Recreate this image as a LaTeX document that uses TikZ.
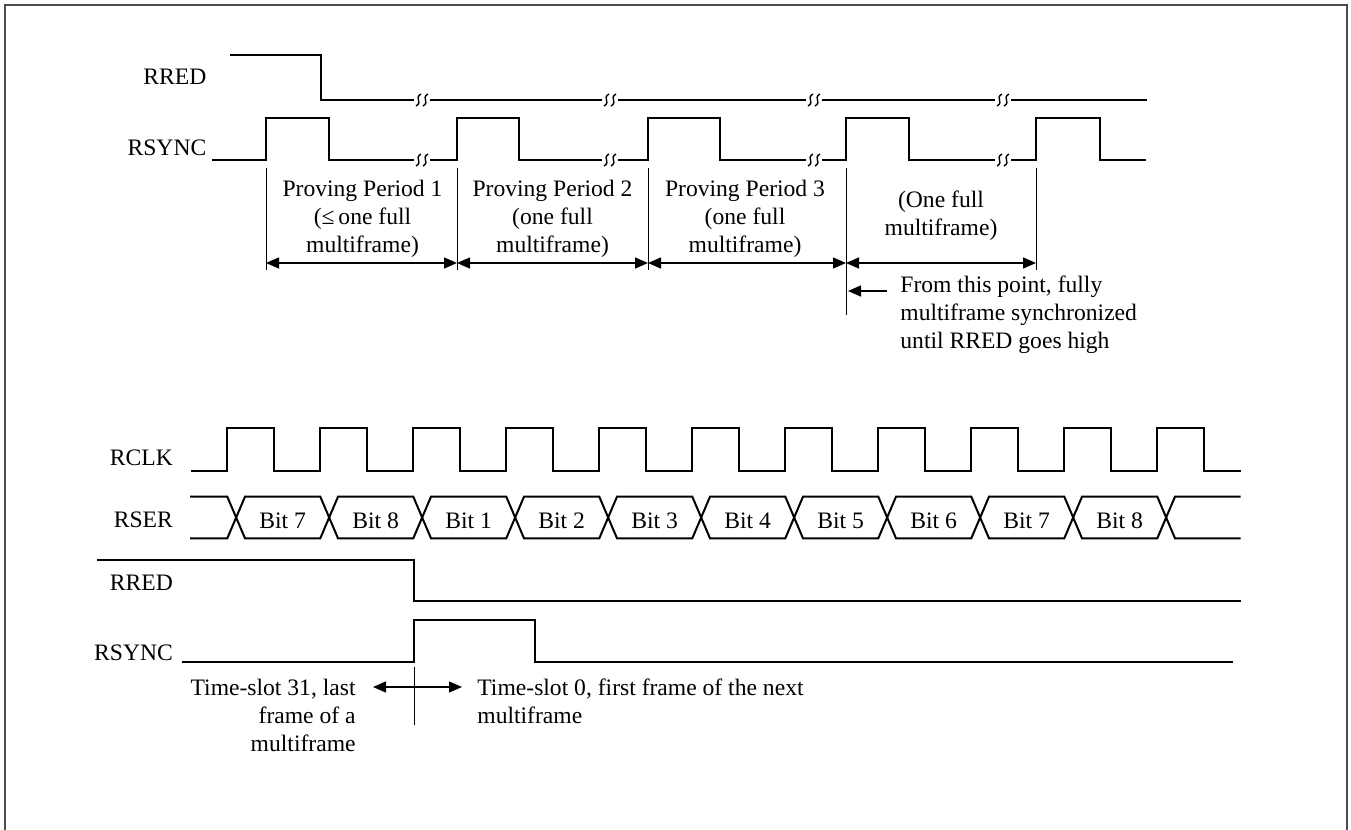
\documentclass[tikz,border=0pt]{standalone}
\usepackage{fontspec}
\setmainfont{Liberation Serif}
\usetikzlibrary{arrows.meta}

% 断线符号
\newcommand{\wavebrk}[2]{%
  \foreach \dx in {-3.5,3.5}
    \draw[line width=0.7pt] ({#1+\dx-2.5},{#2+6}) .. controls ({#1+\dx+5},{#2+1.5}) and ({#1+\dx-5},{#2-1.5}) .. ({#1+\dx+2.5},{#2-6});%
}

\begin{document}
\begin{tikzpicture}[x=0.5pt, y=-0.5pt, >={Triangle[length=6.5pt,width=5.5pt]},
  sig/.style={line width=1pt},
  ext/.style={line width=0.5pt},
  dim/.style={line width=0.7pt, <->},
  every node/.style={font=\fontsize{11.8}{14}\selectfont, inner sep=0pt}]
\useasboundingbox (0,0) rectangle (1351,830);
% 外框
\draw[black!70, line width=1pt] (5,835) -- (5,5) -- (1347,5) -- (1347,835);

% 上半部分：信号名
\node[anchor=east] (rred1) at (206.7,76.7) {RRED};
\node[anchor=east] (rsync1) at (206.7,148.3) {RSYNC};

% RRED
\draw[sig] (230,55.3) -- (321,55.3) -- (321,100)
  \foreach \b in {422,610,814,1003} { -- ({\b-8},100) ({\b+8},100) } -- (1147,100);
% RSYNC
\draw[sig] (211.7,160)
  \foreach \r/\f/\b in {266/329/422, 457/519/610, 648/720/814, 846/909/1003}
    { -- (\r,160) -- (\r,118.3) -- (\f,118.3) -- (\f,160) -- ({\b-8},160) ({\b+8},160) }
  -- (1036,160) -- (1036,118.3) -- (1100,118.3) -- (1100,160) -- (1146,160);
\foreach \b in {422,610,814,1003} { \wavebrk{\b}{100} \wavebrk{\b}{160} }

% 尺寸线
\foreach \i/\x/\e in {1/266/270, 2/457/270, 3/648/270, 4/846/315, 5/1036/270}
  { \coordinate (p\i) at (\x,263); \draw[ext] (\x,168) -- (\x,\e); }
\draw[dim] (p1) -- (p2);
\draw[dim] (p2) -- (p3);
\draw[dim] (p3) -- (p4);
\draw[dim] (p4) -- (p5);

\node[align=center] (pp1) at (362.5,219) {Proving Period 1\\(≤\,one full\\multiframe)};
\node[align=center] (pp2) at (552.5,219) {Proving Period 2\\(one full\\multiframe)};
\node[align=center] (pp3) at (745,219) {Proving Period 3\\(one full\\multiframe)};
\node[align=center] (pp4) at (941,216) {(One full\\multiframe)};

\coordinate (s0) at (848,291);
\coordinate (s1) at (887,291);
\draw[line width=0.7pt, ->] (s1) -- (s0);
\node[align=left, anchor=west] (note) at (900,315) {From this point, fully\\multiframe synchronized\\until RRED goes high};

% 下半部分：信号名
\node[anchor=east] (rclk) at (173.3,457.3) {RCLK};
\node[anchor=east] (rser) at (173.3,519.3) {RSER};
\node[anchor=east] (rred2) at (173.3,582.7) {RRED};
\node[anchor=east] (rsync2) at (173.3,652.7) {RSYNC};

% RCLK
\draw[sig] (191,470.7) \foreach \k in {0,...,10}
  { -- ({227.3+93*\k},470.7) -- ++(0,-42.4) -- ++(46.5,0) -- ++(0,42.4) } -- (1240.7,470.7);

% RSER
\foreach \k [evaluate=\k as \a using 227.3+93*\k, evaluate=\k as \c using 227.3+93*(\k+1)] in {0,...,9}
  \draw[sig] ({\a+8.85},517.5) -- ({\a+17.7},496.7) -- (\c,496.7) -- ({\c+8.85},517.5)
    -- (\c,538.3) -- ({\a+17.7},538.3) -- cycle;
\draw[sig] (190,496.7) -- (227.3,496.7) -- (236.15,517.5) -- (227.3,538.3) -- (190,538.3);
\draw[sig] (1240.7,496.7) -- (1175,496.7) -- (1166.15,517.5) -- (1175,538.3) -- (1240.7,538.3);
\foreach \k/\n in {0/7, 1/8, 2/1, 3/2, 4/3, 5/4, 6/5, 7/6, 8/7, 9/8}
  \node (bit\k) at ({227.3+93*\k+55.35},521) {Bit \n};

% RRED, RSYNC
\draw[sig] (97.3,560) -- (413.5,560) -- (413.5,601) -- (1240.7,601);
\draw[sig] (181.7,661.7) -- (414,661.7) -- (414,620) -- (535,620) -- (535,661.7) -- (1233.3,661.7);

% 时隙说明
\draw[ext] (414,667) -- (414,725);
\coordinate (q0) at (373,687);
\coordinate (q1) at (462,687);
\draw[dim] (q0) -- (q1);
\node[align=right, anchor=east] (ts31) at (356,715) {Time-slot 31, last\\frame of a\\multiframe};
\node[align=left, anchor=west] (ts0) at (477,701) {Time-slot 0, first frame of the next\\multiframe};
\end{tikzpicture}
\end{document}
